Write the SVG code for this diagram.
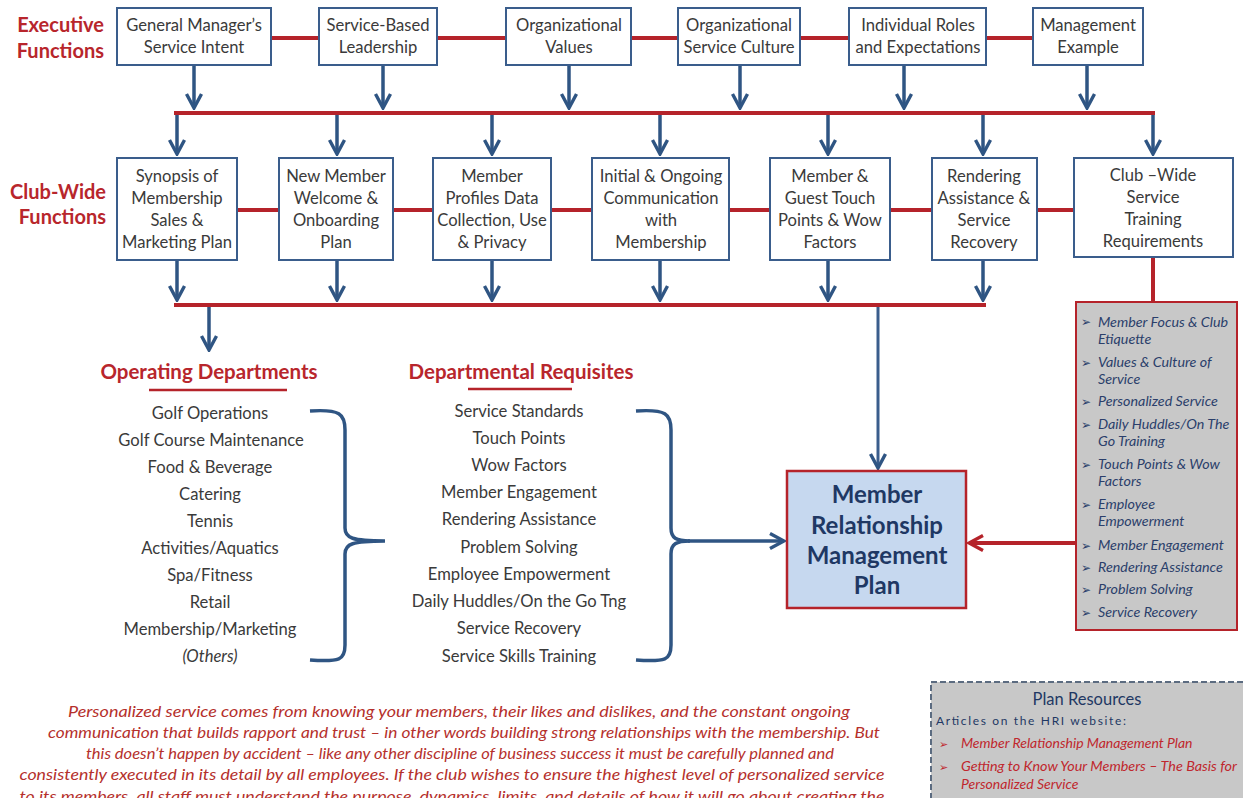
<svg xmlns="http://www.w3.org/2000/svg" width="1243" height="798" viewBox="0 0 1243 798">
<defs>
<style>
.box{fill:#fff;stroke:#3a5d8c;stroke-width:2}
.bt{font-family:Lato,"Open Sans",sans-serif;font-size:16.6px;fill:#3a3a3a;text-anchor:middle}
.lbl{font-family:Lato,"Open Sans",sans-serif;font-size:20px;font-weight:bold;fill:#b8262c;text-anchor:end}
.hd{font-family:Lato,"Open Sans",sans-serif;font-size:20.5px;font-weight:bold;fill:#b8262c;text-anchor:middle}
.li{font-family:Lato,"Open Sans",sans-serif;font-size:16.6px;fill:#3a3a3a;text-anchor:middle}
.red{stroke:#b5232a;stroke-width:4;fill:none}
.blue{stroke:#2f5583;stroke-width:3.5;fill:none}
.gi{font-family:Lato,"Open Sans",sans-serif;font-size:14.3px;font-style:italic;fill:#2b3f6b}
.bul{font-family:"DejaVu Sans",sans-serif;font-size:12px;fill:#2b3f6b}
.para{font-family:Lato,"Open Sans",sans-serif;font-size:14.5px;font-style:italic;fill:#b5302c;text-anchor:middle}
</style>
<marker id="ab" viewBox="0 0 18 18" refX="16" refY="9" markerWidth="18" markerHeight="18" markerUnits="userSpaceOnUse" orient="auto">
<path d="M2,1.5 L16,9 L2,16.5" fill="none" stroke="#2f5583" stroke-width="3.4"/>
</marker>
<marker id="ar" viewBox="0 0 18 18" refX="16" refY="9" markerWidth="18" markerHeight="18" markerUnits="userSpaceOnUse" orient="auto">
<path d="M2,1.5 L16,9 L2,16.5" fill="none" stroke="#b5232a" stroke-width="3.4"/>
</marker>
</defs>
<rect width="1243" height="798" fill="#fff"/>

<!-- row labels -->
<text class="lbl" x="104" y="32">Executive</text>
<text class="lbl" x="104" y="58">Functions</text>
<text class="lbl" x="106" y="199">Club-Wide</text>
<text class="lbl" x="106" y="224">Functions</text>

<g id="connectors">
<line class="red" x1="271" y1="38" x2="1033" y2="38"/>
<line class="blue" x1="194" y1="65" x2="194" y2="108" marker-end="url(#ab)"/>
<line class="blue" x1="383" y1="65" x2="383" y2="108" marker-end="url(#ab)"/>
<line class="blue" x1="569" y1="65" x2="569" y2="108" marker-end="url(#ab)"/>
<line class="blue" x1="740" y1="65" x2="740" y2="108" marker-end="url(#ab)"/>
<line class="blue" x1="904" y1="65" x2="904" y2="108" marker-end="url(#ab)"/>
<line class="blue" x1="1087" y1="65" x2="1087" y2="108" marker-end="url(#ab)"/>
<line class="red" x1="174" y1="113" x2="1155" y2="113"/>
<line class="blue" x1="177" y1="115" x2="177" y2="154" marker-end="url(#ab)"/>
<line class="blue" x1="337" y1="115" x2="337" y2="154" marker-end="url(#ab)"/>
<line class="blue" x1="492" y1="115" x2="492" y2="154" marker-end="url(#ab)"/>
<line class="blue" x1="660" y1="115" x2="660" y2="154" marker-end="url(#ab)"/>
<line class="blue" x1="828" y1="115" x2="828" y2="154" marker-end="url(#ab)"/>
<line class="blue" x1="983" y1="115" x2="983" y2="154" marker-end="url(#ab)"/>
<line class="blue" x1="1153" y1="115" x2="1153" y2="154" marker-end="url(#ab)"/>
<line class="red" x1="237" y1="210" x2="1074" y2="210"/>
<line class="blue" x1="177" y1="261" x2="177" y2="300" marker-end="url(#ab)"/>
<line class="blue" x1="337" y1="261" x2="337" y2="300" marker-end="url(#ab)"/>
<line class="blue" x1="492" y1="261" x2="492" y2="300" marker-end="url(#ab)"/>
<line class="blue" x1="660" y1="261" x2="660" y2="300" marker-end="url(#ab)"/>
<line class="blue" x1="828" y1="261" x2="828" y2="300" marker-end="url(#ab)"/>
<line class="blue" x1="983" y1="261" x2="983" y2="300" marker-end="url(#ab)"/>
<line class="red" x1="174" y1="305" x2="986" y2="305"/>
<line class="blue" x1="209" y1="307" x2="209" y2="350" marker-end="url(#ab)"/>
<line x1="878" y1="307" x2="878" y2="468" stroke="#3a5d8c" stroke-width="3" marker-end="url(#ab)"/>
<line class="red" x1="1153" y1="258" x2="1153" y2="302"/>
<line class="red" x1="1076" y1="543" x2="969" y2="543" marker-end="url(#ar)"/>
<path class="blue" d="M310,411 C340,409 345,414 345,430 L345,528 C345,538 352,541 385,541 C352,541 345,544 345,554 L345,645 C345,660 340,662 310,660"/>
<path class="blue" d="M636,411 C666,409 671,414 671,430 L671,528 C671,538 676,541 690,541 C676,541 671,544 671,554 L671,645 C671,660 666,662 636,660"/>
<line class="blue" x1="688" y1="541" x2="784" y2="541" marker-end="url(#ab)"/>
</g>

<!-- top row -->
<g id="n-gm"><rect class="box" x="117" y="8" width="154" height="57"/><text class="bt" x="194" y="31">General Manager’s</text><text class="bt" x="194" y="53">Service Intent</text></g>
<g id="n-sbl"><rect class="box" x="319" y="8" width="118" height="57"/><text class="bt" x="378" y="31">Service-Based</text><text class="bt" x="378" y="53">Leadership</text></g>
<g id="n-ov"><rect class="box" x="506" y="8" width="125" height="57"/><text class="bt" x="569" y="31">Organizational</text><text class="bt" x="569" y="53">Values</text></g>
<g id="n-osc"><rect class="box" x="678" y="8" width="122" height="57"/><text class="bt" x="739" y="31">Organizational</text><text class="bt" x="739" y="53">Service Culture</text></g>
<g id="n-ire"><rect class="box" x="849" y="8" width="137" height="57"/><text class="bt" x="918" y="31">Individual Roles</text><text class="bt" x="918" y="53">and Expectations</text></g>
<g id="n-me"><rect class="box" x="1033" y="8" width="110" height="57"/><text class="bt" x="1088" y="31">Management</text><text class="bt" x="1088" y="53">Example</text></g>

<!-- club row -->
<g id="n-syn"><rect class="box" x="117" y="158" width="120" height="102"/><text class="bt" x="177" y="182">Synopsis of</text><text class="bt" x="177" y="204">Membership</text><text class="bt" x="177" y="226">Sales &amp;</text><text class="bt" x="177" y="248">Marketing Plan</text></g>
<g id="n-nm"><rect class="box" x="279" y="158" width="114" height="102"/><text class="bt" x="336" y="182">New  Member</text><text class="bt" x="336" y="204">Welcome &amp;</text><text class="bt" x="336" y="226">Onboarding</text><text class="bt" x="336" y="248">Plan</text></g>
<g id="n-mp"><rect class="box" x="433" y="158" width="118" height="102"/><text class="bt" x="492" y="182">Member</text><text class="bt" x="492" y="204">Profiles  Data</text><text class="bt" x="492" y="226">Collection, Use</text><text class="bt" x="492" y="248">&amp; Privacy</text></g>
<g id="n-ioc"><rect class="box" x="592" y="158" width="137" height="102"/><text class="bt" x="661" y="182">Initial &amp; Ongoing</text><text class="bt" x="661" y="204">Communication</text><text class="bt" x="661" y="226">with</text><text class="bt" x="661" y="248">Membership</text></g>
<g id="n-mg"><rect class="box" x="770" y="158" width="120" height="102"/><text class="bt" x="830" y="182">Member  &amp;</text><text class="bt" x="830" y="204">Guest Touch</text><text class="bt" x="830" y="226">Points &amp; Wow</text><text class="bt" x="830" y="248">Factors</text></g>
<g id="n-ra"><rect class="box" x="932" y="158" width="105" height="102"/><text class="bt" x="984" y="182">Rendering</text><text class="bt" x="984" y="204">Assistance &amp;</text><text class="bt" x="984" y="226">Service</text><text class="bt" x="984" y="248">Recovery</text></g>
<g id="n-cw"><rect class="box" x="1074" y="158" width="159" height="99"/><text class="bt" x="1153" y="181">Club –Wide</text><text class="bt" x="1153" y="203">Service</text><text class="bt" x="1153" y="225">Training</text><text class="bt" x="1153" y="247">Requirements</text></g>

<!-- training list box -->
<g id="n-tl">
<rect x="1076" y="302" width="161" height="328" fill="#c8c8c8" stroke="#b5232a" stroke-width="2"/>
<g class="bul"><text x="1081" y="326">➢</text><text x="1081" y="367">➢</text><text x="1081" y="406">➢</text><text x="1081" y="429">➢</text><text x="1081" y="469">➢</text><text x="1081" y="509">➢</text><text x="1081" y="550">➢</text><text x="1081" y="572">➢</text><text x="1081" y="594">➢</text><text x="1081" y="617">➢</text></g>
<g class="gi">
<text x="1098" y="327">Member Focus &amp; Club</text><text x="1098" y="344">Etiquette</text>
<text x="1098" y="367">Values &amp; Culture of</text><text x="1098" y="384">Service</text>
<text x="1098" y="406">Personalized Service</text>
<text x="1098" y="429">Daily Huddles/On The</text><text x="1098" y="446">Go Training</text>
<text x="1098" y="469">Touch Points &amp; Wow</text><text x="1098" y="486">Factors</text>
<text x="1098" y="509">Employee</text><text x="1098" y="526">Empowerment</text>
<text x="1098" y="550">Member Engagement</text>
<text x="1098" y="572">Rendering Assistance</text>
<text x="1098" y="594">Problem Solving</text>
<text x="1098" y="617">Service Recovery</text>
</g>
</g>

<!-- MRM plan -->
<g id="n-mrm">
<rect x="787" y="471" width="179" height="137" fill="#c6d8ef" stroke="#b5232a" stroke-width="2.5"/>
<g font-family="Lato,'Open Sans',sans-serif" font-size="24" font-weight="bold" fill="#1f3864" text-anchor="middle">
<text x="877" y="503">Member</text><text x="877" y="534">Relationship</text><text x="877" y="564">Management</text><text x="877" y="594">Plan</text>
</g>
</g>

<!-- Operating departments -->
<g id="n-od">
<text class="hd" x="209" y="379">Operating Departments</text>
<line x1="149" y1="390" x2="287" y2="390" stroke="#b5232a" stroke-width="2.5"/>
<text class="li" x="210" y="419">Golf Operations</text>
<text class="li" x="211" y="446">Golf Course Maintenance</text>
<text class="li" x="210" y="473">Food &amp; Beverage</text>
<text class="li" x="210" y="500">Catering</text>
<text class="li" x="210" y="527">Tennis</text>
<text class="li" x="210" y="554">Activities/Aquatics</text>
<text class="li" x="210" y="581">Spa/Fitness</text>
<text class="li" x="210" y="608">Retail</text>
<text class="li" x="210" y="635">Membership/Marketing</text>
<text class="li" x="210" y="662" font-style="italic">(Others)</text>
</g>

<!-- Departmental requisites -->
<g id="n-dr">
<text class="hd" x="521" y="379">Departmental Requisites</text>
<line x1="468" y1="389" x2="572" y2="389" stroke="#b5232a" stroke-width="2.5"/>
<text class="li" x="519" y="417">Service Standards</text>
<text class="li" x="519" y="444">Touch Points</text>
<text class="li" x="519" y="471">Wow Factors</text>
<text class="li" x="519" y="498">Member  Engagement</text>
<text class="li" x="519" y="525">Rendering Assistance</text>
<text class="li" x="519" y="553">Problem Solving</text>
<text class="li" x="519" y="580">Employee  Empowerment</text>
<text class="li" x="519" y="607">Daily Huddles/On the Go Tng</text>
<text class="li" x="519" y="634">Service Recovery</text>
<text class="li" x="519" y="662">Service Skills Training</text>
</g>

<!-- Plan resources -->
<g id="n-pr">
<rect x="931" y="682" width="320" height="130" fill="#c8c8c8" stroke="#5b6b80" stroke-width="2" stroke-dasharray="6,3"/>
<text x="1087" y="705" font-family="Lato,'Open Sans',sans-serif" font-size="16.5" fill="#1f3864" text-anchor="middle">Plan Resources</text>
<text x="936" y="725" font-family="Lato,'Open Sans',sans-serif" font-size="12" fill="#1f3864" textLength="190" lengthAdjust="spacing">Articles on the HRI website:</text>
<text x="939" y="748" font-family="'DejaVu Sans',sans-serif" font-size="11" fill="#c0272d">➢</text>
<text x="939" y="771" font-family="'DejaVu Sans',sans-serif" font-size="11" fill="#c0272d">➢</text>
<g font-family="Lato,'Open Sans',sans-serif" font-size="14" font-style="italic" fill="#c0272d">
<text x="961" y="748">Member Relationship Management Plan</text>
<text x="961" y="771" textLength="276" lengthAdjust="spacingAndGlyphs">Getting to Know Your Members – The Basis for</text>
<text x="961" y="789">Personalized Service</text>
</g>
</g>

<!-- paragraph -->
<g id="para">
<text class="para" x="459" y="717" textLength="782" lengthAdjust="spacingAndGlyphs">Personalized service  comes from knowing your members,  their likes and dislikes, and the constant ongoing</text>
<text class="para" x="464" y="738" textLength="832" lengthAdjust="spacingAndGlyphs">communication that builds rapport and trust – in other words building strong relationships with the membership.  But</text>
<text class="para" x="460" y="759" textLength="748" lengthAdjust="spacingAndGlyphs">this doesn’t happen by accident – like any other discipline of business success  it must be carefully planned and</text>
<text class="para" x="452" y="780" textLength="865" lengthAdjust="spacingAndGlyphs">consistently  executed in its detail by all employees.  If the club wishes to ensure the highest level of personalized service</text>
<text class="para" x="452" y="802" textLength="865" lengthAdjust="spacingAndGlyphs">to its members, all staff must understand the purpose, dynamics, limits, and details of how it will go about creating the</text>
</g>
</svg>
